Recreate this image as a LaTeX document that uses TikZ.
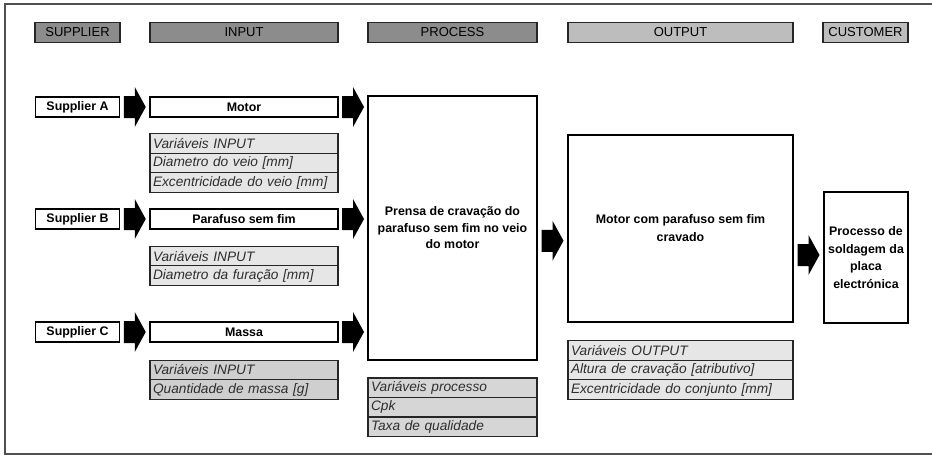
\documentclass[tikz,border=0pt]{standalone}
\usepackage{fontspec}
\setmainfont{Liberation Sans}
\usetikzlibrary{calc}
\definecolor{hdrdark}{HTML}{8C8C8C}
\definecolor{hdrlight}{HTML}{BDBDBD}
\definecolor{rowlight}{HTML}{E6E6E6}
\definecolor{rowmid}{HTML}{D6D6D6}
\definecolor{rowdark}{HTML}{CFCFCF}
\definecolor{rowtext}{HTML}{2E2E2E}
\definecolor{framegray}{HTML}{505050}
\tikzset{
  hdr/.style={draw=black!85, line width=1.5pt, fill=#1, minimum height=20, inner sep=0pt,
    font=\fontsize{13}{14}\selectfont},
  box/.style={draw=black, line width=1.7pt, fill=white, inner sep=0pt,
    font=\fontsize{12.4}{14}\selectfont\bfseries},
  bigbox/.style={draw=black, line width=1.7pt, fill=white, inner sep=2pt, align=center},
  vrow/.style={draw=black!85, line width=1.4pt, fill=#1, minimum height=19.5, inner xsep=3pt,
    inner ysep=0pt, align=left, text=rowtext, font=\fontsize{13.7}{14}\selectfont\itshape},
  pics/blockarrow/.style={code={
    \fill[black] (-11,-11) -- (0,-11) -- (0,-20) -- (11,0) -- (0,20) -- (0,11) -- (-11,11) -- cycle;}}
}
\begin{document}
\begin{tikzpicture}[x=1pt,y=-1pt]
\useasboundingbox (0,0) rectangle (932,455);
% outer frame
\draw[framegray, line width=1.3pt] (934,4) -- (5,4) -- (5,454) -- (934,454);

% column headers
\node[hdr=hdrdark, minimum width=85] (hsup) at (77.5,32.5) {SUPPLIER};
\node[hdr=hdrdark, minimum width=188] (hinp) at (244,32.5) {INPUT};
\node[hdr=hdrdark, minimum width=169] (hproc) at (452.5,32.5) {PROCESS};
\node[hdr=hdrlight, minimum width=225] (hout) at (680.5,32.5) {OUTPUT};
\node[hdr=hdrlight, minimum width=85] (hcust) at (865.5,32.5) {CUSTOMER};

% suppliers
\node[box, minimum width=84, minimum height=20] (supA) at (77.5,107) {Supplier A};
\node[box, minimum width=84, minimum height=20] (supB) at (77.5,219) {Supplier B};
\node[box, minimum width=84, minimum height=20] (supC) at (77.5,332) {Supplier C};

% inputs
\node[box, minimum width=188, minimum height=20] (motor) at (244,107) {Motor};
\node[box, minimum width=188, minimum height=20] (paraf) at (244,219) {Parafuso sem fim};
\node[box, minimum width=188, minimum height=20] (massa) at (244,332) {Massa};

% input variables
\node[vrow=rowlight, text width=182] (m1) at (244,143.5) {Variáveis INPUT};
\node[vrow=rowlight, text width=182] (m2) at (244,163) {Diametro do veio [mm]};
\node[vrow=rowlight, text width=182] (m3) at (244,182.5) {Excentricidade do veio [mm]};
\node[vrow=rowlight, text width=182] (p1) at (244,256.5) {Variáveis INPUT};
\node[vrow=rowlight, text width=182] (p2) at (244,275.5) {Diametro da furação [mm]};
\node[vrow=rowdark, text width=182] (s1) at (244,370) {Variáveis INPUT};
\node[vrow=rowdark, text width=182] (s2) at (244,389.5) {Quantidade de massa [g]};

% process
\node[bigbox, minimum width=169, minimum height=264,
  font=\fontsize{12.4}{16.5}\selectfont\bfseries] (proc) at (452.5,228)
  {Prensa de cravação do\\parafuso sem fim no veio\\do motor};
\node[vrow=rowmid, text width=163] (r1) at (452.5,387.75) {Variáveis processo};
\node[vrow=rowmid, text width=163] (r2) at (452.5,407.25) {Cpk};
\node[vrow=rowmid, text width=163] (r3) at (452.5,426.75) {Taxa de qualidade};

% output
\node[bigbox, minimum width=225, minimum height=187,
  font=\fontsize{12.4}{18}\selectfont\bfseries] (out) at (680.5,228.5)
  {Motor com parafuso sem fim\\cravado};
\node[vrow=rowlight, text width=219] (o1) at (680.5,350.5) {Variáveis OUTPUT};
\node[vrow=rowlight, text width=219] (o2) at (680.5,370) {Altura de cravação [atributivo]};
\node[vrow=rowlight, text width=219] (o3) at (680.5,389.5) {Excentricidade do conjunto [mm]};

% customer
\node[bigbox, minimum width=84, minimum height=131, inner sep=0pt,
  font=\fontsize{12.4}{17.5}\selectfont\bfseries] (cust) at (866,257.5)
  {Processo de\\soldagem da\\placa\\electrónica};

% flow arrows
\pic at ($(supA.east)!0.5!(motor.west)$) {blockarrow};
\pic at ($(supB.east)!0.5!(paraf.west)$) {blockarrow};
\pic at ($(supC.east)!0.5!(massa.west)$) {blockarrow};
\pic at ($(motor.east)!0.5!(motor.east -| proc.west)$) {blockarrow};
\pic at ($(paraf.east)!0.5!(paraf.east -| proc.west)$) {blockarrow};
\pic at ($(massa.east)!0.5!(massa.east -| proc.west)$) {blockarrow};
\pic at ($($(proc.east)!0.5!(out.west)$)+(0,12.5)$) {blockarrow};
\pic at ($($(out.east)!0.5!(cust.west)$)+(0,12)$) {blockarrow};
\end{tikzpicture}
\end{document}
